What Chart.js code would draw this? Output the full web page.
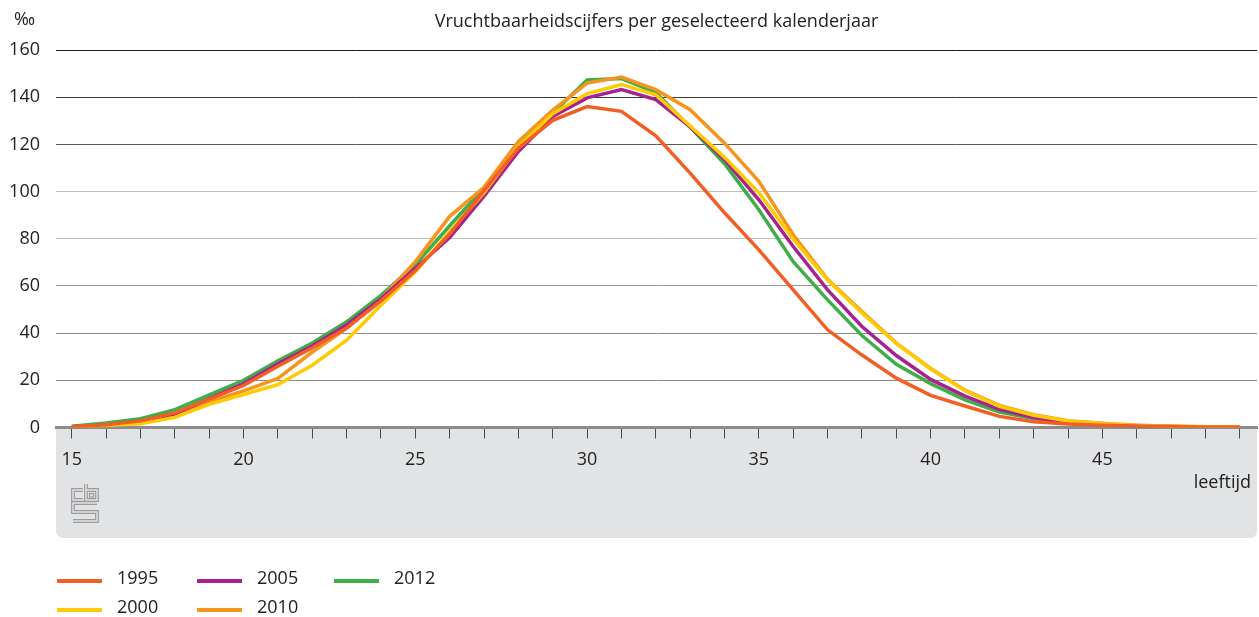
<!DOCTYPE html>
<html>
<head>
<meta charset="utf-8">
<script src="https://cdn.jsdelivr.net/npm/chart.js@4/dist/chart.umd.min.js"></script>
<style>
  html, body { margin: 0; padding: 0; background: #fff; }
  #wrap { position: relative; width: 1259px; height: 617px; font-family: "Open Sans", sans-serif; color: #222; }
  #chart { position: absolute; left: 0; top: 0; }
  .key { position: absolute; font-size: 18px; line-height: 20px; white-space: nowrap; }
  .key i { position: absolute; left: 0; width: 45px; height: 4px; }
  .key span { position: absolute; top: 0; }
</style>
</head>
<body>
<div id="wrap">
  <canvas id="chart" width="1259" height="617"></canvas>
  <div id="legend"></div>
</div>
<script>
  "use strict";

  // leeftijd 15 .. 49
  const ages = [15, 16, 17, 18, 19, 20, 21, 22, 23, 24, 25, 26, 27, 28, 29, 30, 31, 32,
    33, 34, 35, 36, 37, 38, 39, 40, 41, 42, 43, 44, 45, 46, 47, 48, 49];
  const ageLabels = [15, 20, 25, 30, 35, 40, 45];
  const yTicks = [0, 20, 40, 60, 80, 100, 120, 140, 160];

  // vruchtbaarheidscijfers (per 1000 vrouwen)
  const v1995 = [0.3, 1.2, 2.8, 6.2, 12.0, 17.8, 26.0, 33.8, 42.2, 53.7, 66.5, 82.0, 100.5, 118.4,
    130.2, 136.0, 134.0, 123.6, 107.8, 91.0, 75.3, 58.3, 41.4, 30.7, 20.9, 13.6, 9.1, 4.7,
    2.4, 1.5, 1.0, 0.6, 0.3, 0.2, 0.1];
  const v2000 = [0.2, 0.8, 1.6, 4.3, 9.8, 14.0, 18.2, 26.4, 37.0, 51.8, 66.0, 83.0, 99.5, 119.0,
    133.0, 141.5, 145.4, 141.0, 127.8, 114.5, 99.5, 79.8, 62.5, 48.5, 35.6, 24.8, 15.6, 9.0,
    5.2, 2.8, 1.6, 0.9, 0.5, 0.3, 0.1];
  const v2005 = [0.3, 1.0, 2.7, 5.8, 12.2, 18.5, 27.0, 34.5, 43.5, 54.5, 67.5, 80.5, 98.0, 117.0,
    131.8, 139.7, 143.2, 139.0, 127.4, 113.5, 96.5, 76.7, 58.3, 42.8, 30.5, 20.4, 13.3, 7.7,
    4.2, 2.2, 1.3, 0.7, 0.4, 0.2, 0.1];
  const v2010 = [0.2, 0.9, 2.4, 5.6, 11.0, 15.5, 20.8, 32.0, 42.0, 54.5, 70.3, 89.5, 101.8, 121.3,
    134.5, 146.0, 148.5, 143.2, 134.7, 120.5, 104.3, 81.7, 62.8, 49.2, 35.8, 25.0, 15.8, 9.4,
    5.4, 2.9, 1.8, 1.0, 0.5, 0.3, 0.1];
  const v2012 = [0.5, 1.9, 3.7, 7.6, 13.8, 20.0, 28.3, 35.8, 44.8, 56.0, 69.0, 85.5, 101.5, 119.3,
    133.2, 147.3, 147.9, 142.0, 127.3, 111.8, 92.3, 70.3, 54.1, 39.0, 26.8, 18.6, 11.7, 6.5,
    3.8, 2.2, 1.3, 0.7, 0.4, 0.2, 0.1];

  const years = ["1995", "2000", "2005", "2010", "2012"];
  const series = [v1995, v2000, v2005, v2010, v2012];
  const colors = ["#f15f25", "#ffcb05", "#a6228f", "#f7941e", "#3fae49"];

  // grid lines are not all the same shade in the original
  const gridShade = { 20: "#8a8a8a", 40: "#8a8a8a", 60: "#9a9a9a", 80: "#bdbdbd",
    100: "#bdbdbd", 120: "#5a5a5a", 140: "#3a3a3a", 160: "#1a1a1a" };

  const BAND = "#e2e3e5";
  const FONT = "'Open Sans', sans-serif";

  const decor = {
    id: "decor",
    beforeDraw(chart) {
      const ctx = chart.ctx;
      const a = chart.chartArea;
      const bottom = chart.scales.x.bottom;
      ctx.save();
      ctx.fillStyle = BAND;
      ctx.beginPath();
      ctx.roundRect(a.left, a.bottom, a.right - a.left, bottom - a.bottom, [0, 0, 7, 7]);
      ctx.fill();
      ctx.restore();
    },
    afterDraw(chart) {
      const ctx = chart.ctx;
      const a = chart.chartArea;
      ctx.save();
      ctx.fillStyle = "#222";
      ctx.font = "18px " + FONT;
      ctx.textBaseline = "alphabetic";
      ctx.textAlign = "center";
      ctx.fillText("Vruchtbaarheidscijfers per geselecteerd kalenderjaar", (a.left + a.right) / 2, 27);
      ctx.textAlign = "left";
      ctx.fillText("‰", 14, 25);
      ctx.textAlign = "right";
      ctx.fillText("leeftijd", 1251, 488);

      // cbs logo, outlined strokes
      const paths = [
        [[83, 490], [73, 490], [73, 500], [83, 500]],
        [[86, 484], [86, 500], [97, 500], [97, 490], [86, 490]],
        [[97, 503], [73, 503], [73, 512], [97, 512], [97, 521], [73, 521]]
      ];
      ctx.lineJoin = "miter";
      for (const [w, c] of [[3.8, "#9b9b9b"], [1.4, BAND]]) {
        ctx.lineWidth = w;
        ctx.strokeStyle = c;
        for (const p of paths) {
          ctx.beginPath();
          ctx.moveTo(p[0][0], p[0][1]);
          for (const q of p.slice(1)) ctx.lineTo(q[0], q[1]);
          ctx.stroke();
        }
      }
      ctx.lineWidth = 1.2;
      ctx.strokeStyle = "#9b9b9b";
      ctx.strokeRect(89.5, 493.5, 4, 3.5);
      ctx.restore();
    }
  };

  const chart = new Chart(document.getElementById("chart"), {
    type: "line",
    data: {
      datasets: series.map((s, i) => ({
        label: years[i],
        data: ages.map((age, j) => ({ x: age, y: s[j] })),
        borderColor: colors[i],
        backgroundColor: colors[i],
        borderWidth: 3.5,
        pointRadius: 0,
        tension: 0,
        fill: false
      }))
    },
    options: {
      responsive: false,
      animation: false,
      layout: { padding: { top: 50, right: 2, bottom: 79, left: 0 } },
      plugins: {
        legend: { display: false },
        title: { display: false },
        tooltip: { enabled: false }
      },
      scales: {
        x: {
          type: "linear",
          min: 14.54,
          max: 49.5,
          afterFit(scale) { scale.height = 110.5; },
          afterBuildTicks(scale) { scale.ticks = ages.map(v => ({ value: v })); },
          border: { display: true, color: "#8c8c8c", width: 3 },
          grid: { drawOnChartArea: false, drawTicks: true, tickLength: 11, color: "#4a4a4a", lineWidth: 1 },
          ticks: {
            autoSkip: false,
            maxRotation: 0,
            padding: 11,
            color: "#222",
            font: { family: FONT, size: 18 },
            callback: v => ageLabels.includes(v) ? String(v) : ""
          }
        },
        y: {
          min: 0,
          max: 160,
          afterFit(scale) { scale.width = 56; },
          afterBuildTicks(scale) { scale.ticks = yTicks.map(v => ({ value: v })); },
          border: { display: false },
          grid: {
            drawTicks: false,
            lineWidth: 1,
            color: c => gridShade[c.tick.value] || "rgba(0,0,0,0)"
          },
          ticks: {
            padding: 16,
            color: "#222",
            font: { family: FONT, size: 18 }
          }
        }
      }
    },
    plugins: [decor]
  });

  // legend: two rows, filled column by column
  const legend = document.getElementById("legend");
  const colX = [57, 197, 334];
  const rowTop = [567, 596];
  years.forEach((y, i) => {
    const el = document.createElement("div");
    el.className = "key";
    el.style.left = colX[Math.floor(i / 2)] + "px";
    el.style.top = rowTop[i % 2] + "px";
    el.innerHTML = '<i style="top:12px;background:' + colors[i] + '"></i><span style="left:60px">' + y + "</span>";
    legend.appendChild(el);
  });
</script>
</body>
</html>
